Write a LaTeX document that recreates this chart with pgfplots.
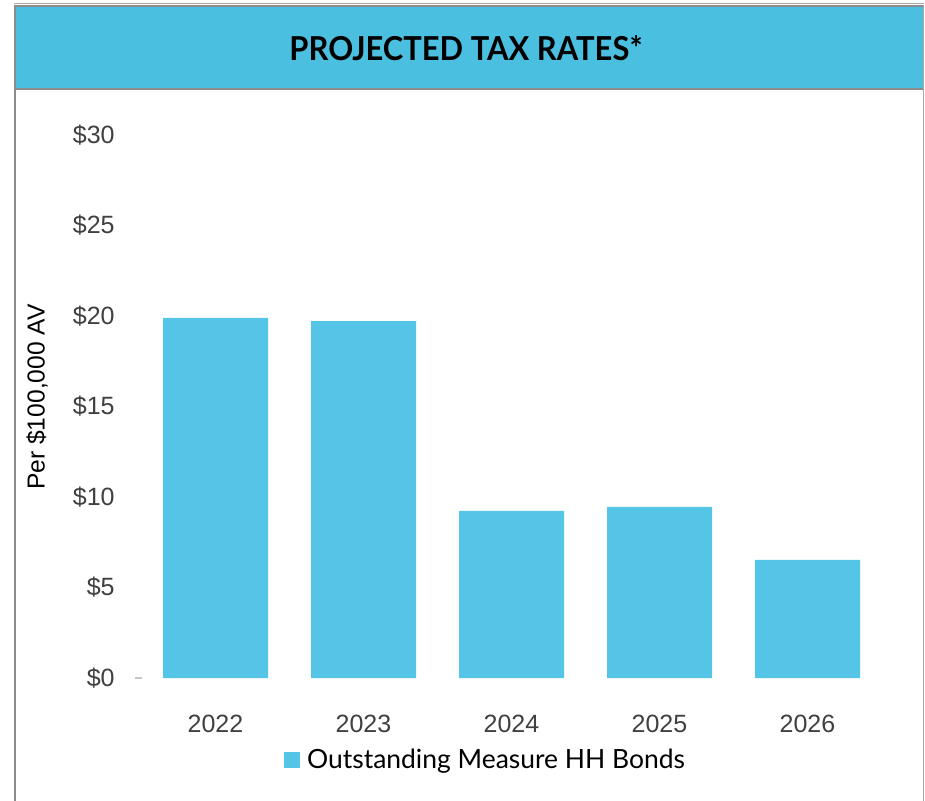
\documentclass[border=0pt]{standalone}
\usepackage{pgfplots}
\pgfplotsset{compat=1.18}
\usepackage{fontspec}
\setmainfont{Liberation Sans}
\newfontfamily\latofont{Lato}
\definecolor{barcol}{HTML}{55C5E7}
\definecolor{titlecol}{HTML}{4BBFE0}
\definecolor{tickcol}{HTML}{404040}
\definecolor{framecol}{HTML}{8C8C8C}
\definecolor{framelight}{HTML}{A8A8A8}
\begin{document}
\begin{tikzpicture}
\useasboundingbox (0pt,0pt) rectangle (462.5pt,-400.5pt);
\fill[white] (0pt,0pt) rectangle (462.5pt,-400.5pt);
\begin{scope}[x=0.5pt,y=-0.5pt]
  % frame
  \fill[titlecol] (14,5) rectangle (923.5,89);
  \draw[framelight,line width=0.5pt] (14,4) -- (924,4);
  \draw[framecol,line width=1pt] (14,6) -- (924,6);
  \draw[framecol,line width=1pt] (14,89) -- (924,89);
  \draw[framecol,line width=1pt] (15,5) -- (15,801);
  \draw[framelight,line width=0.75pt] (923.5,5) -- (923.5,801);
  \node[inner sep=0pt] at (466,48.5) {\resizebox{176.5pt}{12.5pt}{\latofont\bfseries PROJECTED TAX RATES*}};
\end{scope}
\begin{axis}[
  at={(70.75pt,-339pt)}, anchor=south west,
  scale only axis, width=370pt, height=271.5pt,
  xmin=-0.5, xmax=4.5, ymin=0, ymax=30,
  axis line style={draw=none},
  major tick style={draw=none},
  ytick pos=left, xtick pos=bottom,
  xtick={0,1,2,3,4},
  xticklabels={2022,2023,2024,2025,2026},
  ytick={0,5,10,15,20,25,30},
  yticklabels={\$0,\$5,\$10,\$15,\$20,\$25,\$30},
  tick label style={font=\fontsize{12.5}{15}\selectfont, text=tickcol, inner sep=0pt},
  yticklabel style={anchor=east, xshift=-13.25pt},
  xticklabel style={anchor=north, yshift=-14pt},
  extra y ticks={0}, extra y tick labels={},
  extra tick style={major tick length=3.5pt, tick align=outside, major tick style={draw=gray!45, line width=1pt}},
  ylabel={Per \$100,000 AV},
  ylabel style={at={(-0.1412,0.5175)}, anchor=center, font=\fontsize{12.3}{15}\selectfont, text=black, inner sep=0pt},
  ybar, bar width=52.5pt, bar shift=0pt,
  legend style={draw=none, fill=none, at={(0.1926,-0.151)}, anchor=west, inner sep=0pt, outer sep=0pt, nodes={inner sep=0pt, anchor=west}},
  legend image code/.code={\fill[barcol] (0pt,-4pt) rectangle (8pt,4pt);},
]
\addplot[fill=barcol, draw=none] coordinates {(0,19.9) (1,19.72) (2,9.23) (3,9.45) (4,6.52)};
\addlegendentry{\hspace{3.5pt}\resizebox{189pt}{!}{\latofont\fontsize{12.5}{15}\selectfont Outstanding Measure HH Bonds}}
\end{axis}
\end{tikzpicture}
\end{document}
